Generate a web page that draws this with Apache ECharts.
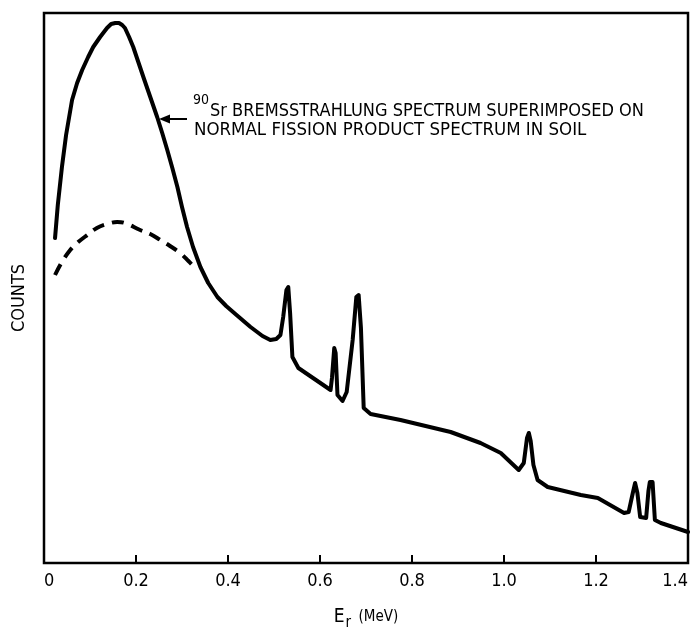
<!DOCTYPE html>
<html>
<head>
<meta charset="utf-8">
<script src="https://cdn.jsdelivr.net/npm/echarts@6/dist/echarts.min.js"></script>
<style>html,body{margin:0;padding:0;background:#fff}#c{width:695px;height:628px}</style>
</head>
<body>
<div id="c"></div>
<script>
// Energy (MeV) and counts (arbitrary units) of the total spectrum (solid)
const solidX = [0.024,0.030,0.039,0.048,0.061,0.072,0.083,0.096,0.107,0.122,0.137,0.146,0.155,0.163,0.170,0.176,0.185,0.194,0.205,0.216,0.231,0.246,0.257,0.268,0.279,0.290,0.300,0.311,0.324,0.340,0.357,0.377,0.396,0.416,0.449,0.475,0.492,0.505,0.514,0.520,0.527,0.531,0.535,0.540,0.553,0.623,0.626,0.631,0.634,0.638,0.649,0.658,0.671,0.679,0.684,0.689,0.695,0.710,0.775,0.884,0.949,0.993,1.032,1.043,1.050,1.054,1.058,1.064,1.073,1.095,1.167,1.204,1.261,1.271,1.280,1.285,1.290,1.296,1.309,1.314,1.317,1.323,1.328,1.341,1.400];
const solidY = [325,358,396,428,463,480,493,506,516,526,535,539,540,540,538,535,526,516,501,486,466,446,430,413,395,376,356,336,316,296,280,266,257,249,236,227,223,224,228,246,273,276,250,206,195,173,185,215,210,168,162,171,223,266,268,235,155,149,143,131,120,110,93,100,125,130,122,98,83,76,68,65,50,51,70,80,70,46,45,72,81,81,43,40,31];
// Normal fission product spectrum (dashed)
const dashX = [0.024,0.039,0.057,0.072,0.094,0.115,0.137,0.159,0.176,0.209,0.231,0.253,0.274,0.296,0.314,0.331];
const dashY = [288,301,313,320,328,335,339,341,340,333,329,323,317,310,302,294];
const xTickLabels = ['0','0.2','0.4','0.6','0.8','1.0','1.2','1.4'];
const annotationSup = '90';
const annotationLine1 = 'Sr BREMSSTRAHLUNG SPECTRUM SUPERIMPOSED ON';
const annotationLine2 = 'NORMAL FISSION PRODUCT SPECTRUM IN SOIL';

const FONT = '"Liberation Sans Narrow","DejaVu Sans Condensed",Arial,sans-serif';
const chart = echarts.init(document.getElementById('c'), null, {renderer:'canvas'});
const zip = (a,b)=>a.map((v,i)=>[v,b[i]]);
chart.setOption({
  backgroundColor:'#fff',
  animation:false,
  grid:{left:44,right:7,top:13,bottom:65,outerBoundsMode:'none',containLabel:false,show:true,borderColor:'#000',borderWidth:2.5,backgroundColor:'transparent'},
  xAxis:{
    type:'value',min:0,max:1.4,interval:0.2,
    axisLine:{show:false},
    axisTick:{show:true,inside:true,length:8,lineStyle:{color:'#000',width:2}},
    splitLine:{show:false},
    axisLabel:{margin:9,color:'#000',fontFamily:FONT,fontSize:18,alignMinLabel:'left',alignMaxLabel:'right',formatter:(v,i)=>xTickLabels[i]},
    name:'{e|E}{s|r} {u|(MeV)}',nameLocation:'middle',nameGap:40,
    nameTextStyle:{fontFamily:FONT,color:'#000',rich:{
      e:{fontFamily:FONT,fontSize:19,color:'#000'},
      s:{fontFamily:FONT,fontSize:15,color:'#000',padding:[13,0,0,1]},
      u:{fontFamily:FONT,fontSize:15,color:'#000',padding:[0,0,0,4]}
    }}
  },
  yAxis:{
    type:'value',min:0,max:550,
    axisLine:{show:false},axisTick:{show:false},axisLabel:{show:false},splitLine:{show:false},
    name:'COUNTS',nameLocation:'middle',nameGap:16,
    nameTextStyle:{fontFamily:FONT,fontSize:18,color:'#000',padding:[0,20,0,0]}
  },
  series:[
    {type:'line',data:zip(solidX,solidY),showSymbol:false,smooth:false,
     lineStyle:{color:'#000',width:4,cap:'round',join:'round'}},
    {type:'line',data:zip(dashX,dashY),showSymbol:false,smooth:0.4,
     lineStyle:{color:'#000',width:4,type:[12,8]}}
  ],
  graphic:[
    {type:'text',left:193,top:93,style:{text:annotationSup,font:'14px '+FONT,fill:'#000'}},
    {type:'text',left:210,top:102,style:{text:annotationLine1,font:'18px '+FONT,fill:'#000'}},
    {type:'text',left:194,top:121,style:{text:annotationLine2,font:'18.5px '+FONT,fill:'#000'}},
    {type:'line',shape:{x1:187,y1:119,x2:166,y2:119},style:{stroke:'#000',lineWidth:2}},
    {type:'polygon',shape:{points:[[159,119],[170,114.5],[170,123.5]]},style:{fill:'#000'}}
  ]
});
</script>
</body>
</html>
